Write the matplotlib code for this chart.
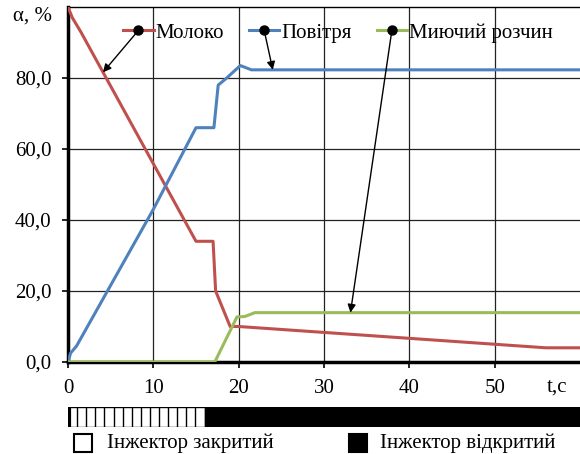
import numpy as np
import matplotlib.pyplot as plt
from matplotlib.patches import Rectangle
from matplotlib.lines import Line2D

plt.rcParams['font.family'] = ['Liberation Serif', 'DejaVu Serif']

# дані
t_milk = [0, 0.5, 1.5, 15, 17, 17.3, 19, 20, 56, 60]
milk = [100, 97, 93, 34, 34, 20, 10, 10, 4, 4]

t_air = [0, 0.3, 1, 10, 15, 17.1, 17.6, 18.6, 19.5, 20.2, 21.5, 60]
air = [0, 2.5, 4.5, 43, 66, 66, 78, 80, 82, 83.5, 82.3, 82.3]

t_wash = [0, 17.2, 19.8, 20.7, 21.9, 60]
wash = [0, 0, 12.7, 12.8, 13.9, 13.9]

labels = ['Молоко', 'Повітря', 'Миючий розчин']
colors = ['#C0504D', '#4F81BD', '#9BBB59']
# куди вказують стрілки від легенди
arrow_targets = [(4.1, 81.6), (24.0, 82.3), (33.1, 13.9)]

yticks = [0, 20, 40, 60, 80]
xticks = [0, 10, 20, 30, 40, 50]

# інжектор: закритий 0..16 с, відкритий 16..60 с
inj_closed = (0, 16)
inj_open = (16, 60)

fig = plt.figure(figsize=(5.8, 4.54), dpi=100)
ax = fig.add_axes([68/580, 92/454, 512/580, 355/454])

for tt, yy, c in zip([t_milk, t_air, t_wash], [milk, air, wash], colors):
    ax.plot(tt, yy, color=c, lw=2.2, zorder=3)

ax.set_xlim(0, 60)
ax.set_ylim(0, 100)
ax.set_yticks(yticks)
ax.set_yticklabels([f'{v:.1f}'.replace('.', ',') for v in yticks])
ax.set_xticks(xticks)
ax.set_xticklabels([str(v) for v in xticks])
ax.grid(True, color='#222222', lw=0.9)
ax.tick_params(axis='y', labelsize=15, length=4, width=1.2, pad=8)
ax.tick_params(axis='x', labelsize=15, direction='out', length=4, width=1.2, pad=8)
for s in ['left', 'bottom']:
    ax.spines[s].set_linewidth(2.5)
ax.spines['top'].set_linewidth(1)
ax.spines['right'].set_visible(False)

# легенда з маркерами
handles = [Line2D([], [], color=c, lw=2.2, marker='o', markersize=6.5,
                  markerfacecolor='black', markeredgecolor='black') for c in colors]
leg = ax.legend(handles, labels, ncol=3, frameon=False, fontsize=15,
                loc='center left', bbox_to_anchor=(0.108, 0.927),
                borderpad=0, borderaxespad=0, handlelength=1.45,
                handletextpad=0.1, columnspacing=1.2)

fig.canvas.draw()
inv = ax.transAxes.inverted()
for line, target in zip(leg.get_lines(), arrow_targets):
    bb = line.get_window_extent()
    start = inv.transform(((bb.x0 + bb.x1) / 2, (bb.y0 + bb.y1) / 2))
    ax.annotate('', xy=target, xycoords='data', xytext=start, textcoords='axes fraction',
                arrowprops=dict(arrowstyle='-|>', color='black', lw=1, mutation_scale=12,
                                shrinkA=0, shrinkB=0), zorder=5)

fig.text(13/580, 1 - 16/454, 'α, %', fontsize=15, ha='left', va='center')
fig.text(557/580, 1 - 387/454, 't,c', fontsize=15, ha='center', va='center')

# смуга стану інжектора
bx = fig.add_axes([68/580, 27/454, 512/580, 20/454])
bx.set_xlim(0, 60)
bx.set_ylim(0, 1)
bx.axis('off')
bx.add_patch(Rectangle((inj_closed[0], 0), inj_closed[1] - inj_closed[0], 1,
                       facecolor='white', edgecolor='black', lw=1))
for x in np.linspace(inj_closed[0], inj_closed[1], 16)[1:-1]:
    bx.plot([x, x], [0, 1], color='black', lw=1)
bx.plot([0.15, 0.15], [0, 1], color='black', lw=3)
bx.add_patch(Rectangle((inj_open[0], 0), inj_open[1] - inj_open[0], 1,
                       facecolor='black', edgecolor='black', lw=1))

# підписи під смугою
fig.patches.append(Rectangle((74/580, 1 - 452/454), 18/580, 18/454, transform=fig.transFigure,
                             facecolor='white', edgecolor='black', lw=1.5))
fig.text(107/580, 1 - 443/454, 'Інжектор закритий', fontsize=15, ha='left', va='center')
fig.patches.append(Rectangle((349/580, 1 - 452/454), 18/580, 18/454, transform=fig.transFigure,
                             facecolor='black', edgecolor='black', lw=1.5))
fig.text(380/580, 1 - 443/454, 'Інжектор відкритий', fontsize=15, ha='left', va='center')

fig.savefig('out.png', dpi=100)
